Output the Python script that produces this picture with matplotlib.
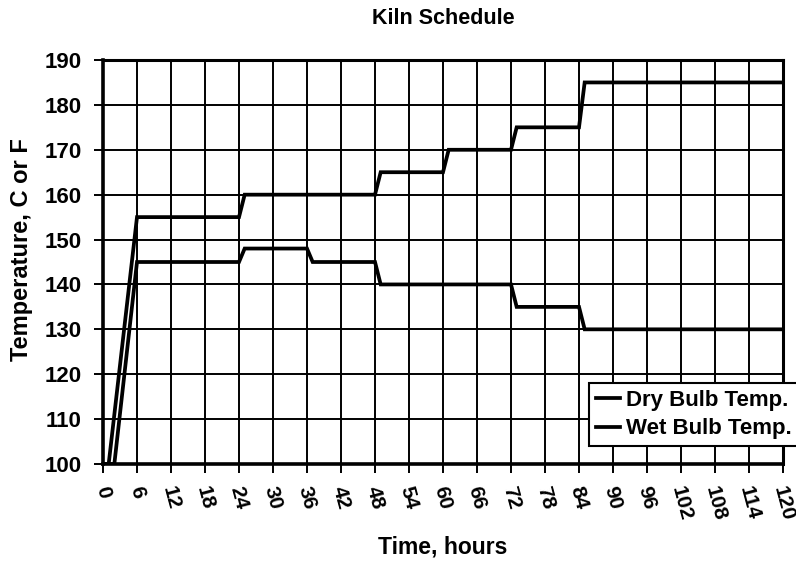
import numpy as np
import matplotlib
matplotlib.use('Agg')
from matplotlib import pyplot as plt

# Kiln schedule data (hours, temperature)
dry_hours = [0, 1, 6, 24, 25, 48, 49, 60, 61, 72, 73, 84, 85, 120]
dry_temp = [100, 100, 155, 155, 160, 160, 165, 165, 170, 170, 175, 175, 185, 185]

wet_hours = [0, 2, 6, 24, 25, 36, 37, 48, 49, 72, 73, 84, 85, 120]
wet_temp = [100, 100, 145, 145, 148, 148, 145, 145, 140, 140, 135, 135, 130, 130]

x_ticks = list(range(0, 121, 6))
y_ticks = list(range(100, 191, 10))

plt.rcParams['font.family'] = ['Liberation Sans', 'DejaVu Sans']
plt.rcParams['font.weight'] = 'bold'

W, H = 796, 567
fig = plt.figure(figsize=(W / 100, H / 100), dpi=100)
ax = fig.add_axes([103 / W, 1 - 464 / H, 680 / W, 404 / H])

ax.plot(dry_hours, dry_temp, color='black', lw=2.7, label='Dry Bulb Temp.',
        solid_joinstyle='miter', zorder=3)
ax.plot(wet_hours, wet_temp, color='black', lw=2.7, label='Wet Bulb Temp.',
        solid_joinstyle='miter', zorder=3)

ax.set_xlim(0, 120)
ax.set_ylim(100, 190)
ax.set_xticks(x_ticks)
ax.set_yticks(y_ticks)
ax.grid(True, color='black', lw=1.4)
ax.set_axisbelow(True)

for side in ['left', 'bottom']:
    ax.spines[side].set_linewidth(2.6)
for side in ['top', 'right']:
    ax.spines[side].set_linewidth(2.2)

ax.tick_params(axis='both', direction='out', length=6.5, width=1.4, labelsize=16)
ax.tick_params(axis='y', pad=9)
ax.tick_params(axis='x', pad=8, labelsize=15)
for lab in ax.get_xticklabels():
    lab.set_rotation(-75)
    lab.set_ha('center')
    lab.set_va('top')
    lab.set_fontweight('bold')
for lab in ax.get_yticklabels():
    lab.set_fontweight('bold')

fig.text(443 / W, 1 - 19 / H, 'Kiln Schedule', fontsize=15.5, fontweight='bold',
         ha='center', va='center')
ax.set_xlabel('Time, hours', fontsize=16.5, fontweight='bold')
ax.xaxis.set_label_coords(0.5, -0.176)
ax.set_ylabel('Temperature, C or F', fontsize=17, fontweight='bold')
ax.yaxis.set_label_coords(-0.103, 0.53)

leg = ax.legend(loc='upper left', bbox_to_anchor=(589 / W, 1 - 383 / H),
                bbox_transform=fig.transFigure, fontsize=16,
                handlelength=1.1, handletextpad=0.25, borderpad=0.3,
                labelspacing=0.35, fancybox=False, framealpha=1,
                edgecolor='black', borderaxespad=0.0)
leg.get_frame().set_linewidth(1.5)
for t in leg.get_texts():
    t.set_fontweight('bold')

fig.savefig('out.png', dpi=100, facecolor='white')
